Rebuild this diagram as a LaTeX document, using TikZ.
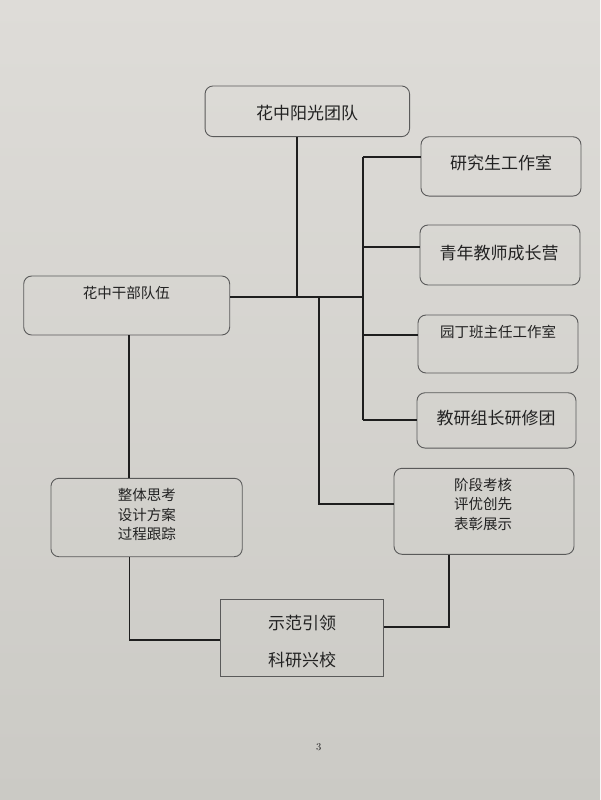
\documentclass[tikz,border=0pt]{standalone}
\usepackage{fontspec}
\newfontfamily\cjk{Noto Sans CJK SC}
\definecolor{paperTop}{HTML}{DEDCD8}
\definecolor{paperBot}{HTML}{CBCAC5}
\definecolor{boxline}{HTML}{5A5A5A}
\definecolor{conncol}{HTML}{1E1E1E}
\definecolor{txtcol}{HTML}{222222}
\tikzset{
  rbox/.style={draw=boxline, line width=0.9pt, rounded corners=8pt, inner sep=0pt},
  sbox/.style={draw=boxline, line width=0.9pt, inner sep=0pt},
  conn/.style={draw=conncol, line width=1.8pt},
  bigtxt/.style={text=txtcol, font=\cjk\fontsize{17}{20}\selectfont, inner sep=0pt},
  smalltxt/.style={text=txtcol, font=\cjk\fontsize{14.5}{19.5}\selectfont, inner sep=0pt, align=center},
}
\begin{document}
\begin{tikzpicture}[x=1pt,y=-1pt]
\shade[top color=paperTop, bottom color=paperBot] (0,0) rectangle (600,800);
\useasboundingbox (0,0) rectangle (600,800);

% boxes
\node[rbox, minimum width=204.5pt, minimum height=50.7pt] (top) at (307.3,111.3) {};
\node[rbox, minimum width=160pt, minimum height=59.3pt] (r1) at (501,166.4) {};
\node[rbox, minimum width=160pt, minimum height=60pt] (r2) at (500,255) {};
\node[rbox, minimum width=160pt, minimum height=58pt] (r3) at (498,344) {};
\node[rbox, minimum width=159pt, minimum height=55.3pt] (r4) at (496.5,420.4) {};
\node[rbox, minimum width=206pt, minimum height=59pt] (left) at (126.7,305.5) {};
\node[rbox, minimum width=191.3pt, minimum height=78.4pt] (lb) at (146.6,517.5) {};
\node[rbox, minimum width=180pt, minimum height=86pt] (rb) at (484,511.3) {};
\node[sbox, minimum width=163.5pt, minimum height=76.7pt] (bot) at (301.8,637.7) {};

% texts
\node[bigtxt] (ttop) at (307,113) {花中阳光团队};
\node[bigtxt] (tr1) at (501,162.7) {研究生工作室};
\node[bigtxt] (tr2) at (499,252.7) {青年教师成长营};
\node[smalltxt] (tr3) at (498,331.7) {园丁班主任工作室};
\node[bigtxt] (tr4) at (496,417.7) {教研组长研修团};
\node[smalltxt] (tleft) at (126.3,292.7) {花中干部队伍};
\node[smalltxt] (tlb) at (146.8,514.5) {整体思考\\设计方案\\过程跟踪};
\node[smalltxt] (trb) at (483,504) {阶段考核\\评优创先\\表彰展示};
\node[bigtxt] (tbot1) at (302,622.7) {示范引领};
\node[bigtxt] (tbot2) at (302,660) {科研兴校};
\node[text=txtcol, font=\fontsize{10.5}{12}\selectfont, inner sep=0pt] (pg) at (318.8,746.7) {3};

% junction coordinates
\coordinate (hub) at (296.6,296.7);
\coordinate (busT) at (362.8,156.7);
\coordinate (busB) at (362.8,420);
\coordinate (hubR) at (362.8,296.7);
\coordinate (b2) at (362.8,246.7);
\coordinate (b3) at (362.8,335);
\coordinate (drop) at (318.8,296.7);
\coordinate (dropB) at (318.8,504.3);
\coordinate (lt) at (128.6,400);
\coordinate (lv) at (129.4,640);
\coordinate (rv) at (449,626.7);

% connectors
\draw[conn] (hub |- top.south) -- (hub);
\draw[conn] (left.east |- hub) -- (hubR);
\draw[conn] (busT) -- (busB);
\draw[conn] (busT) -- (r1.west |- busT);
\draw[conn] (b2) -- (r2.west |- b2);
\draw[conn] (b3) -- (r3.west |- b3);
\draw[conn] (busB) -- (r4.west |- busB);
\draw[conn] (drop) -- (dropB) -- (rb.west |- dropB);
\draw[conn] (lt |- left.south) -- (lt |- lb.north);
\draw[conn] (lv |- lb.south) -- (lv) -- (bot.west |- lv);
\draw[conn] (bot.east |- rv) -- (rv) -- (rv |- rb.south);
\end{tikzpicture}
\end{document}
